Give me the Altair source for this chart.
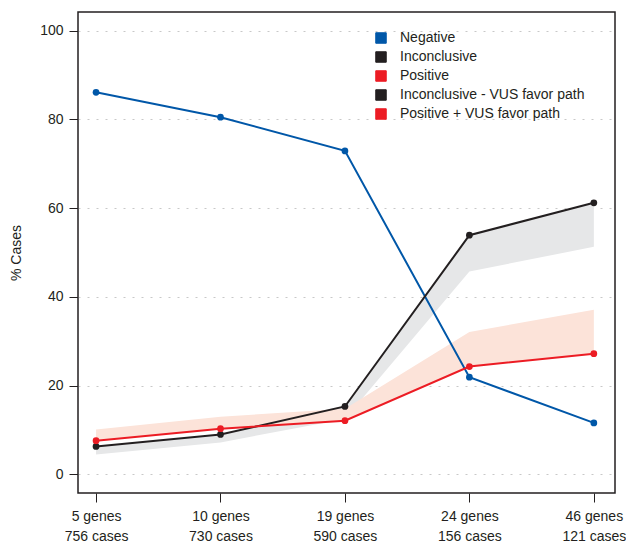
import json
import altair as alt
import pandas as pd

genes = ["5 genes", "10 genes", "19 genes", "24 genes", "46 genes"]
cases = ["756 cases", "730 cases", "590 cases", "156 cases", "121 cases"]
negative = [86.1, 80.5, 72.9, 21.9, 11.6]
inconclusive = [6.3, 9.0, 15.3, 53.9, 61.2]
positive = [7.6, 10.3, 12.1, 24.3, 27.2]
inc_vus = [4.5, 7.2, 12.5, 45.7, 51.3]      # Inconclusive - VUS favor path (lower edge)
pos_vus = [10.1, 13.0, 14.8, 32.1, 37.1]    # Positive + VUS favor path (upper edge)

legend_labels = ["Negative", "Inconclusive", "Positive",
                 "Inconclusive - VUS favor path", "Positive + VUS favor path"]
legend_colors = ["#0057a8", "#231f20", "#ec1c24", "#231f20", "#ec1c24"]

FONT = "Liberation Sans"

rows = []
for name, vals in [("Negative", negative), ("Inconclusive", inconclusive), ("Positive", positive)]:
    for i, v in enumerate(vals):
        rows.append({"idx": i, "value": v, "series": name})
lines_df = pd.DataFrame(rows)

band_rows = []
for i in range(len(genes)):
    band_rows.append({"idx": i, "lo": inc_vus[i], "hi": inconclusive[i], "band": "Inconclusive - VUS favor path"})
    band_rows.append({"idx": i, "lo": positive[i], "hi": pos_vus[i], "band": "Positive + VUS favor path"})
bands_df = pd.DataFrame(band_rows)

label_expr = "[{g}[datum.value], {c}[datum.value]]".format(g=json.dumps(genes), c=json.dumps(cases))

x_scale = alt.Scale(domain=[-0.145, 4.17], nice=False, zero=False)
y_scale = alt.Scale(domain=[-4.2, 104.2], nice=False, zero=False)

x_axis = alt.Axis(values=[0, 1, 2, 3, 4], labelExpr=label_expr, title=None, grid=False,
                  tickSize=9, tickColor="#231f20", domain=False, labelFontSize=14,
                  labelFont=FONT, labelColor="#231f20", labelPadding=7, labelLineHeight=20)
y_axis = alt.Axis(values=[0, 20, 40, 60, 80, 100], title="% Cases", grid=True,
                  gridDash=[2, 7], gridColor="#c8c8c8", gridWidth=1,
                  tickSize=9, tickColor="#231f20", domain=False, labelFontSize=14,
                  labelFont=FONT, labelColor="#231f20", labelPadding=6,
                  titleFont=FONT, titleFontSize=14, titleFontWeight="normal",
                  titleColor="#231f20", titlePadding=16)

band_colors = alt.Scale(domain=["Inconclusive - VUS favor path", "Positive + VUS favor path"],
                        range=["#e6e7e8", "#fce3d9"])

bands = alt.Chart(bands_df).mark_area(opacity=1).encode(
    x=alt.X("idx:Q", scale=x_scale, axis=x_axis),
    y=alt.Y("lo:Q", scale=y_scale, axis=y_axis),
    y2="hi:Q",
    fill=alt.Fill("band:N", scale=band_colors, legend=None),
    detail="band:N",
)

color_scale = alt.Scale(domain=legend_labels, range=legend_colors)
legend = alt.Legend(title=None, orient="none", legendX=296, legendY=19,
                    symbolType="square", symbolSize=110, symbolStrokeColor="#231f20",
                    symbolStrokeWidth=1, labelFontSize=14, labelFont=FONT,
                    labelColor="#231f20", rowPadding=3, labelOffset=12, padding=0,
                    labelLimit=400)

lines = alt.Chart(lines_df).mark_line(strokeWidth=2).encode(
    x=alt.X("idx:Q", scale=x_scale),
    y=alt.Y("value:Q", scale=y_scale),
    color=alt.Color("series:N", scale=color_scale, legend=legend),
)
points = alt.Chart(lines_df).mark_point(filled=True, size=45, opacity=1).encode(
    x=alt.X("idx:Q", scale=x_scale),
    y=alt.Y("value:Q", scale=y_scale),
    color=alt.Color("series:N", scale=color_scale, legend=None),
)

chart = alt.layer(bands, lines, points).resolve_scale(fill="independent", color="shared").properties(
    width=537, height=481,
    padding={"left": 70, "top": 4, "right": 11, "bottom": 56},
    autosize=alt.AutoSizeParams(type="none"),
    background="white",
).configure_view(stroke="#231f20", strokeWidth=1.5)

chart.save("out.html", embed_options={"renderer": "svg", "actions": False})
